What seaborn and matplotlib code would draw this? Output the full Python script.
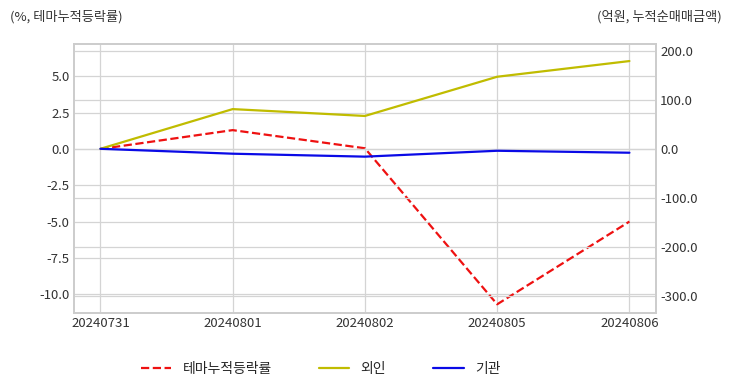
import pandas as pd
import matplotlib.pyplot as plt
import seaborn as sns

dates = ['20240731', '20240801', '20240802', '20240805', '20240806']
theme_rate = [0.0, 1.3, 0.05, -10.7, -5.0]
foreign = [0.0, 81.0, 67.0, 147.0, 179.0]
institution = [0.0, -10.0, -16.0, -4.0, -8.0]

sns.set_theme(style='whitegrid')
plt.rcParams['font.family'] = ['Noto Sans CJK KR', 'DejaVu Sans']
plt.rcParams['axes.unicode_minus'] = False

df = pd.DataFrame({'date': dates, 'theme': theme_rate,
                   'foreign': foreign, 'inst': institution})

fig = plt.figure(figsize=(7.32, 3.92), dpi=100)
ax = fig.add_axes([0.101, 0.2015, 0.795, 0.6865])
ax2 = ax.twinx()

grid_c = '#d4d4d4'
sns.lineplot(data=df, x='date', y='theme', ax=ax, color='#ee1111',
             linestyle='--', linewidth=1.6, label='테마누적등락률', legend=False)
sns.lineplot(data=df, x='date', y='foreign', ax=ax2, color='#c0bc00',
             linewidth=1.6, label='외인', legend=False)
sns.lineplot(data=df, x='date', y='inst', ax=ax2, color='#0a0ae6',
             linewidth=1.6, label='기관', legend=False)

ax.set_ylim(-11.3, 7.24)
ax2.set_ylim(-335, 214)
ax.set_yticks([-10, -7.5, -5, -2.5, 0, 2.5, 5])
ax.set_yticklabels([f'{v:.1f}' for v in [-10, -7.5, -5, -2.5, 0, 2.5, 5]])
ax2.set_yticks([-300, -200, -100, 0, 100, 200])
ax2.set_yticklabels([f'{v:.1f}' for v in [-300, -200, -100, 0, 100, 200]])

for a in (ax, ax2):
    a.set_xlabel('')
    a.set_ylabel('')
    a.grid(True, color=grid_c, linewidth=0.9)
    a.tick_params(labelsize=9.5, colors='#333333', length=0, pad=3)
    for s in a.spines.values():
        s.set_color('#cccccc')
        s.set_linewidth(1.2)
ax2.grid(axis='x', visible=False)
ax.set_xlim(-0.2, 4.2)

fig.text(0.014, 0.957, '(%, 테마누적등락률)', fontsize=9.5, color='#333333', ha='left', va='center')
fig.text(0.986, 0.957, '(억원, 누적순매매금액)', fontsize=9.5, color='#333333', ha='right', va='center')

h1, l1 = ax.get_legend_handles_labels()
h2, l2 = ax2.get_legend_handles_labels()
fig.legend(h1 + h2, l1 + l2, loc='center', bbox_to_anchor=(0.438, 0.058), ncol=3,
           frameon=False, fontsize=10, handlelength=2.2, columnspacing=3.4)

fig.savefig('out.png', dpi=100)
